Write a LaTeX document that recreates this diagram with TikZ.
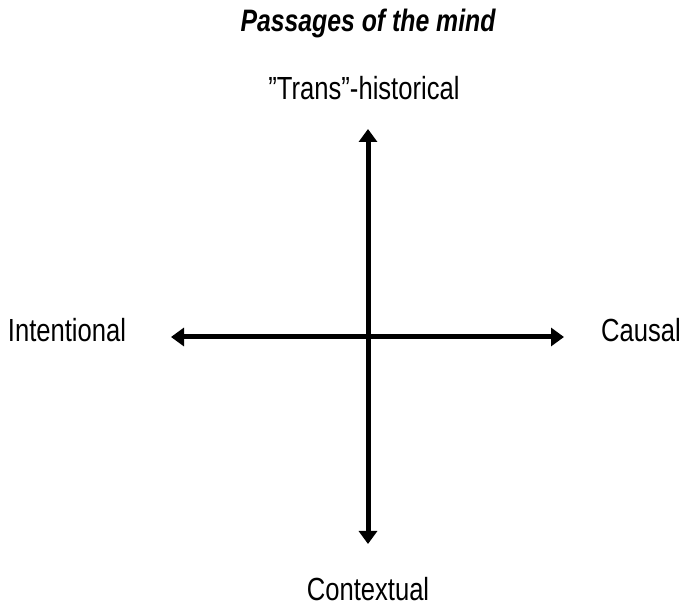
\documentclass[tikz,border=0pt]{standalone}
\usepackage{fontspec}
\setmainfont[FakeStretch=0.8]{Liberation Sans}
\usetikzlibrary{arrows.meta}

\begin{document}
\begin{tikzpicture}[x=0.5pt,y=-0.5pt,
    axis/.style={line width=2.5pt,{Triangle[length=6.5pt,width=9pt]}-{Triangle[length=6.5pt,width=9pt]}},
    lab/.style={anchor=base,inner sep=0pt,font=\fontsize{16}{18}\selectfont}]
  \useasboundingbox (0,0) rectangle (682,610);
  %% Title
  \node[lab,font=\fontsize{15.5}{18}\selectfont\bfseries\itshape] (title) at (368,32)
       {Passages of the mind};
  %% Axis ends
  \coordinate (top)    at (368,129);
  \coordinate (bottom) at (368,544);
  \coordinate (left)   at (171,337);
  \coordinate (right)  at (564,337);
  %% Axes
  \draw[axis] (left)--(right);
  \draw[axis] (top)--(bottom);
  %% Pole labels
  \node[lab] (trans)   at (364,100) {"Trans"-historical};
  \node[lab] (context) at (368,601) {Contextual};
  \node[lab] (intent)  at (67,342)  {Intentional};
  \node[lab] (causal)  at (641,342) {Causal};
\end{tikzpicture}
\end{document}
